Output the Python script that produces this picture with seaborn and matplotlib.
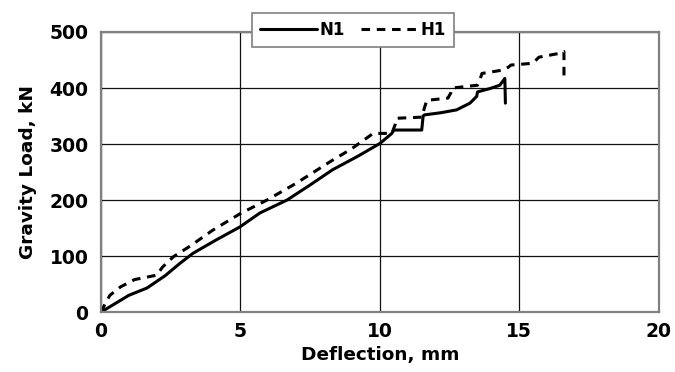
import matplotlib
matplotlib.use("Agg")
import matplotlib.pyplot as plt
import seaborn as sns
import pandas as pd

# Load-deflection records for the two specimens
n1_deflection = [0, 0.5, 1.0, 1.65, 2.3, 2.83, 3.3, 4.1, 4.98, 5.7, 6.67, 7.5, 8.3,
                 9.2, 10.0, 10.43, 10.5, 11.5, 11.55, 11.6, 12.2, 12.75, 13.23,
                 13.47, 13.5, 13.94, 14.3, 14.48, 14.5]
n1_load = [0, 15, 30, 43, 65, 87, 105, 128, 152, 177, 200, 227, 254,
           278, 301, 319, 325, 325, 350, 352, 356, 361, 373,
           385, 393, 399, 405, 417, 373]

h1_deflection = [0, 0.15, 0.32, 0.7, 1.2, 1.6, 2.0, 2.2, 2.6, 3.2, 4.0, 5.0, 5.95,
                 7.0, 8.2, 9.0, 9.76, 10.1, 10.43, 10.55, 10.6, 11.5, 11.6, 11.68,
                 12.44, 12.55, 12.6, 13.5, 13.6, 13.66, 14.4, 14.6, 14.7, 15.45,
                 15.6, 15.7, 16.45, 16.6, 16.6]
h1_load = [0, 15, 30, 45, 58, 62, 66, 80, 99, 118, 146, 176, 200,
           230, 268, 292, 319, 319, 319, 335, 346, 348, 365, 378,
           382, 392, 400, 405, 417, 426, 432, 437, 441, 444,
           450, 455, 462, 465, 422]

x_ticks = [0, 5, 10, 15, 20]
y_ticks = [0, 100, 200, 300, 400, 500]

sns.set_theme(style="white")
plt.rcParams["font.family"] = ["DejaVu Sans"]
plt.rcParams["font.weight"] = "bold"
plt.rcParams["text.color"] = "black"
plt.rcParams["axes.labelcolor"] = "black"
plt.rcParams["xtick.color"] = "black"
plt.rcParams["ytick.color"] = "black"

fig = plt.figure(figsize=(6.75, 3.72), dpi=100)
ax = fig.add_axes([0.1496, 0.161, 0.8264, 0.753])

n1 = pd.DataFrame({"Deflection": n1_deflection, "Load": n1_load})
h1 = pd.DataFrame({"Deflection": h1_deflection, "Load": h1_load})

sns.lineplot(data=n1, x="Deflection", y="Load", ax=ax, sort=False, estimator=None,
             color="black", linewidth=2.2, label="N1")
sns.lineplot(data=h1, x="Deflection", y="Load", ax=ax, sort=False, estimator=None,
             color="black", linewidth=2.2, dashes=False, label="H1")
ax.lines[1].set_dashes((2.8, 2.2))

ax.set_xlim(0, 20)
ax.set_ylim(0, 500)
ax.set_xticks(x_ticks)
ax.set_yticks(y_ticks)
ax.grid(True, color="#111111", linewidth=0.9)
for s in ax.spines.values():
    s.set_color("#808080")
    s.set_linewidth(1.6)
ax.tick_params(axis="y", length=5, width=1.2, color="#808080",
               labelcolor="black", labelsize=13.5, pad=4, direction="out")
ax.tick_params(axis="x", length=5, width=1.2, color="#808080",
               labelcolor="black", labelsize=13.5, pad=2, direction="out")
for lab in ax.get_xticklabels() + ax.get_yticklabels():
    lab.set_fontweight("bold")

ax.set_xlabel("Deflection, mm", fontsize=13.3, fontweight="bold", labelpad=4)
ax.set_ylabel("Gravity Load, kN", fontsize=13.3, fontweight="bold", labelpad=9)

leg = ax.legend(loc="center", bbox_to_anchor=(0.452, 1.007), ncol=2, frameon=True,
                fancybox=False, edgecolor="#808080", framealpha=1,
                handlelength=3.4, handletextpad=0.15, columnspacing=1.0,
                borderpad=0.5, prop={"size": 12, "weight": "bold"})
leg.get_frame().set_linewidth(1.2)

fig.savefig("out.png", dpi=100)
